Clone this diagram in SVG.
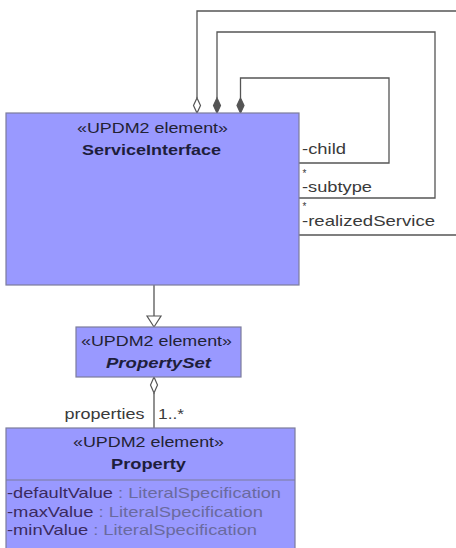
<svg xmlns="http://www.w3.org/2000/svg" width="456" height="548" viewBox="0 0 456 548">
<style>
.box{fill:#9999ff;stroke:#7c7c9c;stroke-width:1.2}
.sep{stroke:#7c7c9c;stroke-width:1.2}
.ln{fill:none;stroke:#555;stroke-width:1.3}
.t{font-family:"Liberation Sans",Arial,sans-serif;font-size:15px}
.ast{font-family:"Liberation Sans",Arial,sans-serif;font-size:10px;fill:#3a3a3a}
.st{fill:#222233}
.nm{fill:#1e1e3c;font-weight:bold}
.lb{fill:#3a3a3a}
.an{fill:#3a2a5e}
.ty{fill:#6a6a9e}
</style>
<rect width="456" height="548" fill="#ffffff"/>
<g id="connectors">
  <path class="ln" d="M197,98 V11 H460 V235 H299"/>
  <path class="ln" d="M217,98 V32 H435 V198 H299"/>
  <path class="ln" d="M240.5,98 V78 H389 V163 H299"/>
  <polygon points="197,98 200.5,105.5 197,113 193.5,105.5" fill="#ffffff" stroke="#555" stroke-width="1.2"/>
  <polygon points="217,98 220.5,105.5 217,113 213.5,105.5" fill="#555" stroke="#555" stroke-width="1.2"/>
  <polygon points="240.5,98 244,105.5 240.5,113 237,105.5" fill="#555" stroke="#555" stroke-width="1.2"/>
  <path class="ln" d="M154,285 V316"/>
  <polygon points="147,316 161,316 154,327" fill="#ffffff" stroke="#555" stroke-width="1.2"/>
  <path class="ln" d="M154,393 V428"/>
  <polygon points="154,377 157.5,385 154,393 150.5,385" fill="#ffffff" stroke="#555" stroke-width="1.2"/>
  <text class="t lb" x="302" y="154" textLength="44" lengthAdjust="spacingAndGlyphs">-child</text>
  <text class="ast" x="302.5" y="177">*</text>
  <text class="t lb" x="302" y="191.5" textLength="70" lengthAdjust="spacingAndGlyphs">-subtype</text>
  <text class="ast" x="302.5" y="209.5">*</text>
  <text class="t lb" x="302" y="226" textLength="133" lengthAdjust="spacingAndGlyphs">-realizedService</text>
  <text class="t lb" x="64.5" y="419" textLength="80" lengthAdjust="spacingAndGlyphs">properties</text>
  <text class="t lb" x="158" y="419" textLength="26" lengthAdjust="spacingAndGlyphs">1..*</text>
</g>
<g id="ServiceInterface">
  <rect class="box" x="6" y="113" width="293" height="172"/>
  <text class="t st" x="152.5" y="133" text-anchor="middle" textLength="151" lengthAdjust="spacingAndGlyphs">«UPDM2 element»</text>
  <text class="t nm" x="151.5" y="155" text-anchor="middle" textLength="139" lengthAdjust="spacingAndGlyphs">ServiceInterface</text>
</g>
<g id="PropertySet">
  <rect class="box" x="76" y="327" width="165" height="50"/>
  <text class="t st" x="156.5" y="346" text-anchor="middle" textLength="151" lengthAdjust="spacingAndGlyphs">«UPDM2 element»</text>
  <text class="t nm" x="158.5" y="368" text-anchor="middle" font-style="italic" textLength="105" lengthAdjust="spacingAndGlyphs">PropertySet</text>
</g>
<g id="Property">
  <rect class="box" x="6" y="428" width="289" height="126"/>
  <line class="sep" x1="6" y1="480" x2="295" y2="480"/>
  <text class="t st" x="148.5" y="446.5" text-anchor="middle" textLength="151" lengthAdjust="spacingAndGlyphs">«UPDM2 element»</text>
  <text class="t nm" x="148.5" y="469" text-anchor="middle" textLength="75" lengthAdjust="spacingAndGlyphs">Property</text>
  <text class="t" x="7" y="498" textLength="274" lengthAdjust="spacingAndGlyphs"><tspan class="an">-defaultValue</tspan><tspan class="ty"> : LiteralSpecification</tspan></text>
  <text class="t" x="7" y="516.5" textLength="256" lengthAdjust="spacingAndGlyphs"><tspan class="an">-maxValue</tspan><tspan class="ty"> : LiteralSpecification</tspan></text>
  <text class="t" x="7" y="535" textLength="250" lengthAdjust="spacingAndGlyphs"><tspan class="an">-minValue</tspan><tspan class="ty"> : LiteralSpecification</tspan></text>
</g>
</svg>
